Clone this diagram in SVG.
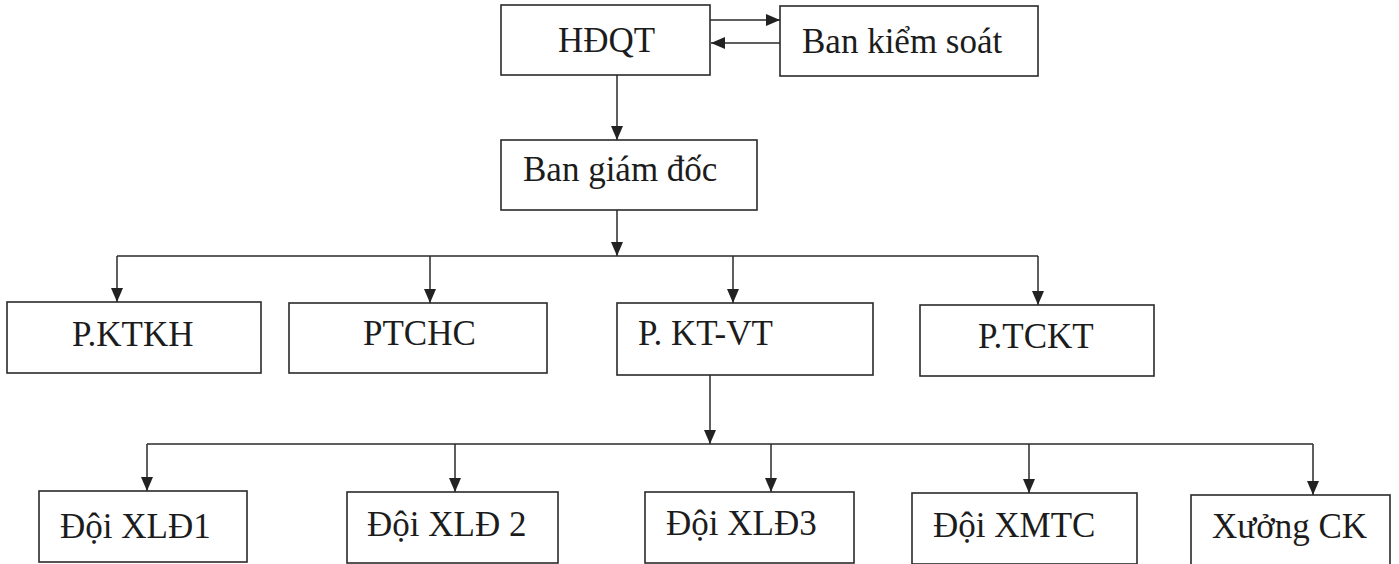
<svg xmlns="http://www.w3.org/2000/svg" width="1399" height="564" viewBox="0 0 1399 564">
<style>
.box{fill:#fff;stroke:#2a2a2a;stroke-width:1.6}
.lbl{font-family:"Liberation Serif","Times New Roman",serif;font-size:35px;fill:#1c1c1c}
.con{fill:none;stroke:#2a2a2a;stroke-width:1.5}
</style>
<defs>
<marker id="ah" markerUnits="userSpaceOnUse" markerWidth="14" markerHeight="12" refX="14" refY="6" orient="auto">
<path d="M0,0 L14,6 L0,12 Z" fill="#222"/>
</marker>
</defs>
<rect width="1399" height="564" fill="#fff"/>
<g id="connectors">
<path class="con" d="M710,20 H780" marker-end="url(#ah)"/>
<path class="con" d="M780,43 H711" marker-end="url(#ah)"/>
<path class="con" d="M617,75 V140" marker-end="url(#ah)"/>
<path class="con" d="M617,210 V256" marker-end="url(#ah)"/>
<path class="con" d="M117,256 H1038"/>
<path class="con" d="M117,256 V302" marker-end="url(#ah)"/>
<path class="con" d="M430,256 V303" marker-end="url(#ah)"/>
<path class="con" d="M733,256 V303" marker-end="url(#ah)"/>
<path class="con" d="M1038,256 V305" marker-end="url(#ah)"/>
<path class="con" d="M710,375 V444" marker-end="url(#ah)"/>
<path class="con" d="M147,444 H1313"/>
<path class="con" d="M147,444 V491" marker-end="url(#ah)"/>
<path class="con" d="M455,444 V492" marker-end="url(#ah)"/>
<path class="con" d="M771,444 V492" marker-end="url(#ah)"/>
<path class="con" d="M1029,444 V493" marker-end="url(#ah)"/>
<path class="con" d="M1313,444 V495" marker-end="url(#ah)"/>
</g>
<g id="hdqt"><rect class="box" x="501" y="5" width="209" height="70"/><text class="lbl" x="558" y="52">HĐQT</text></g>
<g id="ban-kiem-soat"><rect class="box" x="780" y="6" width="258" height="70"/><text class="lbl" x="802" y="53">Ban kiểm soát</text></g>
<g id="ban-giam-doc"><rect class="box" x="501" y="140" width="256" height="70"/><text class="lbl" x="523" y="181">Ban giám đốc</text></g>
<g id="p-ktkh"><rect class="box" x="7" y="302" width="254" height="71"/><text class="lbl" x="72" y="346">P.KTKH</text></g>
<g id="ptchc"><rect class="box" x="289" y="303" width="258" height="70"/><text class="lbl" x="363" y="345">PTCHC</text></g>
<g id="p-kt-vt"><rect class="box" x="617" y="303" width="256" height="72"/><text class="lbl" x="638" y="345">P. KT-VT</text></g>
<g id="p-tckt"><rect class="box" x="920" y="305" width="234" height="71"/><text class="lbl" x="978" y="348">P.TCKT</text></g>
<g id="doi-xld1"><rect class="box" x="39" y="491" width="208" height="71"/><text class="lbl" x="60" y="538">Đội XLĐ1</text></g>
<g id="doi-xld2"><rect class="box" x="347" y="492" width="211" height="71"/><text class="lbl" x="367" y="536">Đội XLĐ 2</text></g>
<g id="doi-xld3"><rect class="box" x="645" y="492" width="209" height="71"/><text class="lbl" x="666" y="535">Đội XLĐ3</text></g>
<g id="doi-xmtc"><rect class="box" x="912" y="493" width="225" height="71"/><text class="lbl" x="933" y="537">Đội XMTC</text></g>
<g id="xuong-ck"><rect class="box" x="1191" y="495" width="199" height="72"/><text class="lbl" x="1212" y="538">Xưởng CK</text></g>
</svg>
